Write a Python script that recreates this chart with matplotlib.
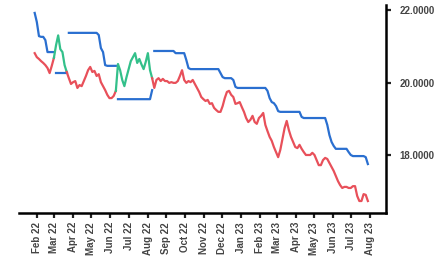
import matplotlib
matplotlib.use("Agg")
from matplotlib import pyplot as plt
import matplotlib.dates as mdates
import numpy as np
import pandas as pd

# Half-weekly closes and the trailing stop line
dates = pd.date_range("2022-01-28", periods=157, freq="84h")
price = [
    20.81, 20.70, 20.65, 20.59, 20.54, 20.48, 20.40, 20.26, 20.46, 20.68,
    21.03, 21.30, 20.92, 20.84, 20.48, 20.29, 20.12, 19.96, 20.01, 20.04,
    19.85, 19.93, 19.90, 20.04, 20.18, 20.34, 20.43, 20.29, 20.32, 20.18,
    20.23, 20.01, 19.90, 19.79, 19.66, 19.57, 19.57, 19.63, 19.77, 20.51,
    20.34, 20.07, 19.90, 20.15, 20.37, 20.59, 20.70, 20.81, 20.54, 20.65,
    20.50, 20.37, 20.57, 20.81, 20.34, 20.12, 19.85, 20.07, 20.12, 20.04,
    20.10, 20.04, 20.04, 19.99, 20.01, 19.99, 19.99, 20.04, 20.18, 20.34,
    20.07, 19.99, 20.04, 20.01, 20.07, 19.96, 19.85, 19.74, 19.60, 19.54,
    19.49, 19.52, 19.41, 19.43, 19.30, 19.24, 19.19, 19.19, 19.35, 19.57,
    19.74, 19.77, 19.66, 19.60, 19.41, 19.43, 19.46, 19.32, 19.19, 19.02,
    18.91, 18.97, 19.08, 18.91, 18.86, 19.02, 19.08, 19.16, 18.83, 18.66,
    18.50, 18.39, 18.22, 18.08, 17.94, 18.14, 18.44, 18.74, 18.94, 18.69,
    18.50, 18.36, 18.22, 18.19, 18.28, 18.17, 18.08, 18.00, 18.00, 18.00,
    18.06, 18.00, 17.86, 17.72, 17.72, 17.86, 17.92, 17.89, 17.78, 17.67,
    17.56, 17.42, 17.28, 17.17, 17.09, 17.12, 17.12, 17.09, 17.09, 17.14,
    17.14, 16.87, 16.73, 16.73, 16.92, 16.90, 16.73,
]
stop = [
    21.92, 21.67, 21.28, 21.26, 21.26, 21.17, 20.84, 20.84, 20.84, 20.84,
    20.26, 20.26, 20.26, 20.26, 20.26, 20.26, 21.37, 21.37, 21.37, 21.37,
    21.37, 21.37, 21.37, 21.37, 21.37, 21.37, 21.37, 21.37, 21.37, 21.37,
    21.31, 20.95, 20.84, 20.48, 20.46, 20.46, 20.46, 20.46, 20.46, 19.54,
    19.54, 19.54, 19.54, 19.54, 19.54, 19.54, 19.54, 19.54, 19.54, 19.54,
    19.54, 19.54, 19.54, 19.54, 19.54, 19.79, 20.87, 20.87, 20.87, 20.87,
    20.87, 20.87, 20.87, 20.87, 20.87, 20.87, 20.81, 20.81, 20.81, 20.81,
    20.81, 20.62, 20.40, 20.37, 20.37, 20.37, 20.37, 20.37, 20.37, 20.37,
    20.37, 20.37, 20.37, 20.37, 20.37, 20.37, 20.37, 20.26, 20.15, 20.12,
    20.12, 20.12, 20.12, 20.07, 19.88, 19.85, 19.85, 19.85, 19.85, 19.85,
    19.85, 19.85, 19.85, 19.85, 19.85, 19.85, 19.85, 19.85, 19.85, 19.77,
    19.57, 19.46, 19.43, 19.35, 19.21, 19.19, 19.19, 19.19, 19.19, 19.19,
    19.19, 19.19, 19.19, 19.19, 19.19, 19.05, 19.02, 19.02, 19.02, 19.02,
    19.02, 19.02, 19.02, 19.02, 19.02, 19.02, 19.02, 18.83, 18.55, 18.36,
    18.25, 18.17, 18.17, 18.17, 18.17, 18.17, 18.17, 18.08, 18.00, 17.97,
    17.97, 17.97, 17.97, 17.97, 17.97, 17.94, 17.75,
]
tick_months = pd.date_range("2022-02-01", "2023-08-01", freq="MS")

RED, GREEN, BLUE = "#e8505a", "#33c08a", "#2a6fd0"

price = np.array(price)
stop = np.array(stop)
up = stop < price

fig = plt.figure(figsize=(4.48, 2.61), dpi=100)
ax = fig.add_axes([0.042, 0.184, 0.820, 0.797])

# split into runs of the same trend; the stop line breaks at each flip
starts = [0] + [i for i in range(1, len(up)) if up[i] != up[i - 1]]
ends = starts[1:] + [len(up)]
for s, e in zip(starts, ends):
    col = GREEN if up[s] else RED
    s0 = max(s - 1, 0)
    ax.plot(dates[s0:e], price[s0:e], color=col, lw=1.6, solid_joinstyle="round")
    ax.plot(dates[s:e], stop[s:e], color=BLUE, lw=1.6, solid_joinstyle="round")

ax.set_xlim(pd.Timestamp("2022-01-02"), pd.Timestamp("2023-08-27"))
ax.set_ylim(16.40, 22.14)

ax.spines["top"].set_visible(False)
ax.spines["left"].set_visible(False)
ax.spines["right"].set_linewidth(1.8)
ax.spines["bottom"].set_linewidth(1.8)

ax.yaxis.tick_right()
ax.set_yticks([18, 20, 22])
ax.set_yticklabels(["18.0000", "20.0000", "22.0000"])
ax.set_xticks(tick_months)
ax.xaxis.set_major_formatter(mdates.DateFormatter("%b %y"))
ax.tick_params(axis="both", direction="out", length=3.5, width=1.6,
               colors="#222", labelcolor="#444", labelsize=7)
ax.tick_params(axis="x", rotation=90, pad=3)
ax.tick_params(axis="y", pad=6)
for lab in ax.get_xticklabels() + ax.get_yticklabels():
    lab.set_fontfamily("Liberation Sans")
    lab.set_fontweight("bold")

fig.savefig("out.png", dpi=100)
print("Done!")
